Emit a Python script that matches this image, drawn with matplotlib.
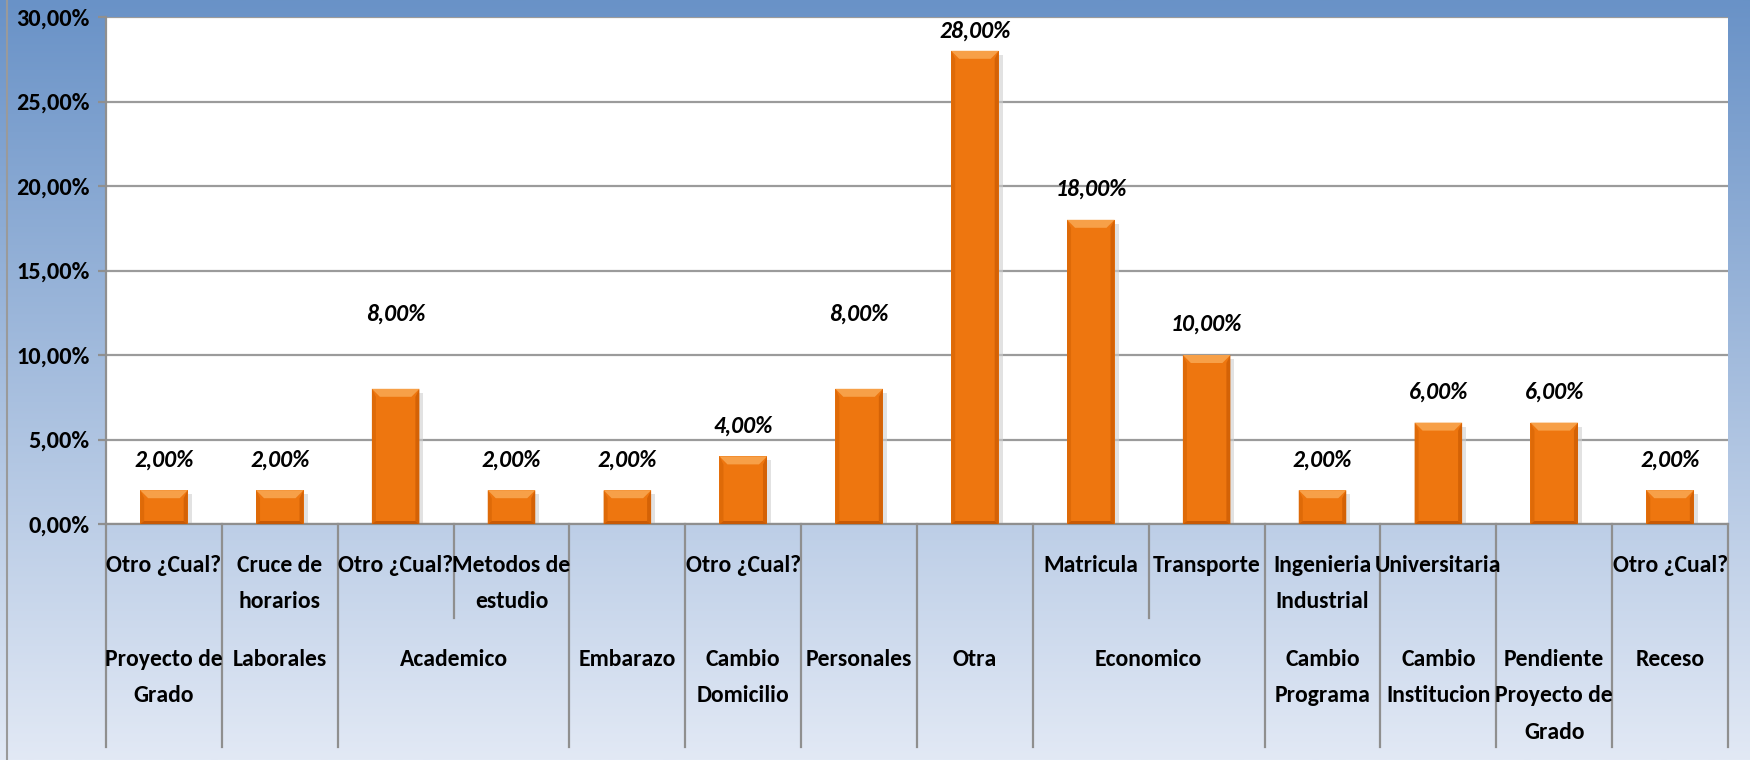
import numpy as np
import matplotlib
matplotlib.use('Agg')
import matplotlib.pyplot as plt
from matplotlib.patches import Polygon
from matplotlib import font_manager

# ---------------- data ----------------
sub_labels = ['Otro ¿Cual?', 'Cruce de\nhorarios', 'Otro ¿Cual?', 'Metodos de\nestudio', '',
              'Otro ¿Cual?', '', '', 'Matricula', 'Transporte', 'Ingenieria\nIndustrial',
              'Universitaria', '', 'Otro ¿Cual?']
group_labels = ['Proyecto de\nGrado', 'Laborales', 'Academico', 'Academico', 'Embarazo',
                'Cambio\nDomicilio', 'Personales', 'Otra', 'Economico', 'Economico',
                'Cambio\nPrograma', 'Cambio\nInstitucion', 'Pendiente\nProyecto de\nGrado', 'Receso']
values = [2, 2, 8, 2, 2, 4, 8, 28, 18, 10, 2, 6, 6, 2]
y_ticks = [0, 5, 10, 15, 20, 25, 30]
y_tick_labels = ['0,00%', '5,00%', '10,00%', '15,00%', '20,00%', '25,00%', '30,00%']
value_labels = ['2,00%', '2,00%', '8,00%', '2,00%', '2,00%', '4,00%', '8,00%', '28,00%',
                '18,00%', '10,00%', '2,00%', '6,00%', '6,00%', '2,00%']
# label gap above the bar (pixels) - style
label_gap = [20, 20, 64, 20, 20, 20, 64, 9, 20, 20, 20, 20, 20, 20]

# ---------------- fonts ----------------
avail = {f.name for f in font_manager.fontManager.ttflist}
prefs = ['Carlito', 'Liberation Sans Narrow', 'Fira Sans Condensed', 'Roboto Condensed',
         'Pragati Narrow', 'Liberation Sans']
font = next(p for p in prefs if p in avail)
plt.rcParams['font.family'] = [font, 'DejaVu Sans']
scale = {'Carlito': 1.0, 'Liberation Sans Narrow': 0.95, 'Fira Sans Condensed': 0.92,
         'Roboto Condensed': 0.95, 'Pragati Narrow': 1.05, 'Liberation Sans': 0.78}[font]

W, H = 1750, 760
fig = plt.figure(figsize=(W / 100, H / 100), dpi=100)

# background gradient
bg = fig.add_axes([0, 0, 1, 1], zorder=-10)
top = np.array([105, 146, 199]) / 255
bot = np.array([226, 233, 245]) / 255
t = np.linspace(0, 1, 512)[:, None]
grad = (top[None, :] * (1 - t) + bot[None, :] * t)[:, None, :]
bg.imshow(grad, aspect='auto', extent=[0, 1, 0, 1], origin='upper')
bg.set_xlim(0, 1); bg.set_ylim(0, 1)
bg.axis('off')
bg.plot([7 / W, 7 / W], [0, 1], color='#9a9a9a', lw=1.5)

# plot area geometry (pixels)
L, R, T, B = 106, 1728, 17, 524
CB = 747
ax = fig.add_axes([L / W, 1 - B / H, (R - L) / W, (B - T) / H])
ax.set_facecolor('white')
n = len(values)
x = np.arange(n)
ax.set_xlim(-0.5, n - 0.5)
ax.set_ylim(0, 30)
for yv in y_ticks:
    ax.axhline(yv, color='#9b9b9b', lw=1.6, zorder=1)
bars = ax.bar(x, values, width=0.41, color='#EE760F', edgecolor='none', zorder=3)
for s in ['top', 'right']:
    ax.spines[s].set_visible(False)
ax.spines['left'].set_color('#8f8f8f'); ax.spines['left'].set_linewidth(1.6)
ax.spines['bottom'].set_color('#8f8f8f'); ax.spines['bottom'].set_linewidth(1.6)
ax.set_yticks(y_ticks)
ax.set_yticklabels(y_tick_labels, fontsize=17.5 * scale, color='black', fontweight='bold')
ax.tick_params(axis='y', length=6, width=1.6, color='#8f8f8f', pad=6)
ax.set_xticks([])

fig.canvas.draw()
# bevel effect on bars
for b in bars:
    (x0, y0), (x1, y1) = ax.transData.transform([(b.get_x(), 0), (b.get_x() + b.get_width(), b.get_height())])
    bev = 8
    ax.add_patch(Polygon([(x0 + 4, y0 - 3), (x1 + 4, y0 - 3), (x1 + 4, y1 - 4), (x1, y1 - 4)],
                         closed=True, transform=None, color='#cfcfcf', alpha=0.6, zorder=2, lw=0))
    ax.add_patch(Polygon([(x0, y1), (x1, y1), (x1 - bev, y1 - bev), (x0 + bev, y1 - bev)],
                         closed=True, transform=None, color='#F7A048', zorder=4, lw=0))
    ax.add_patch(Polygon([(x0, y1), (x0 + bev * 0.5, y1 - bev), (x0 + bev * 0.5, y0 + 3), (x0, y0)],
                         closed=True, transform=None, color='#DE6A08', zorder=4, lw=0))
    ax.add_patch(Polygon([(x1, y1), (x1 - bev * 0.5, y1 - bev), (x1 - bev * 0.5, y0 + 3), (x1, y0)],
                         closed=True, transform=None, color='#D46206', zorder=4, lw=0))
    ax.add_patch(Polygon([(x0, y0), (x1, y0), (x1 - 4, y0 + 3), (x0 + 4, y0 + 3)],
                         closed=True, transform=None, color='#C85A05', zorder=4, lw=0))

# value labels
for i, v in enumerate(values):
    ax.annotate(value_labels[i], (x[i], v), xytext=(0, label_gap[i] * 0.72), textcoords='offset points',
                ha='center', va='bottom', fontsize=17 * scale, fontweight='bold', fontstyle='italic',
                color='black', zorder=6, annotation_clip=False)

# category area
cax = fig.add_axes([L / W, 1 - CB / H, (R - L) / W, (CB - B) / H])
cax.set_xlim(-0.5, n - 0.5)
cax.set_ylim(CB - B, 0)
cax.axis('off')
mid = 94
for i in range(n + 1):
    xb = i - 0.5
    if 0 < i < n and group_labels[i - 1] == group_labels[i]:
        cax.plot([xb, xb], [0, mid], color='#8f8f8f', lw=1.6, clip_on=False)
    else:
        cax.plot([xb, xb], [0, CB - B], color='#8f8f8f', lw=1.6, clip_on=False)

for i in range(n):
    if sub_labels[i]:
        cax.text(x[i], 31, sub_labels[i], ha='center', va='top', fontsize=17 * scale,
                 linespacing=1.9, color='black', fontweight='bold')
i = 0
while i < n:
    j = i
    while j + 1 < n and group_labels[j + 1] == group_labels[i]:
        j += 1
    cax.text((x[i] + x[j]) / 2, 125, group_labels[i], ha='center', va='top', fontsize=17 * scale,
             linespacing=1.9, color='black', fontweight='bold')
    i = j + 1

fig.savefig('out.png', dpi=100)
